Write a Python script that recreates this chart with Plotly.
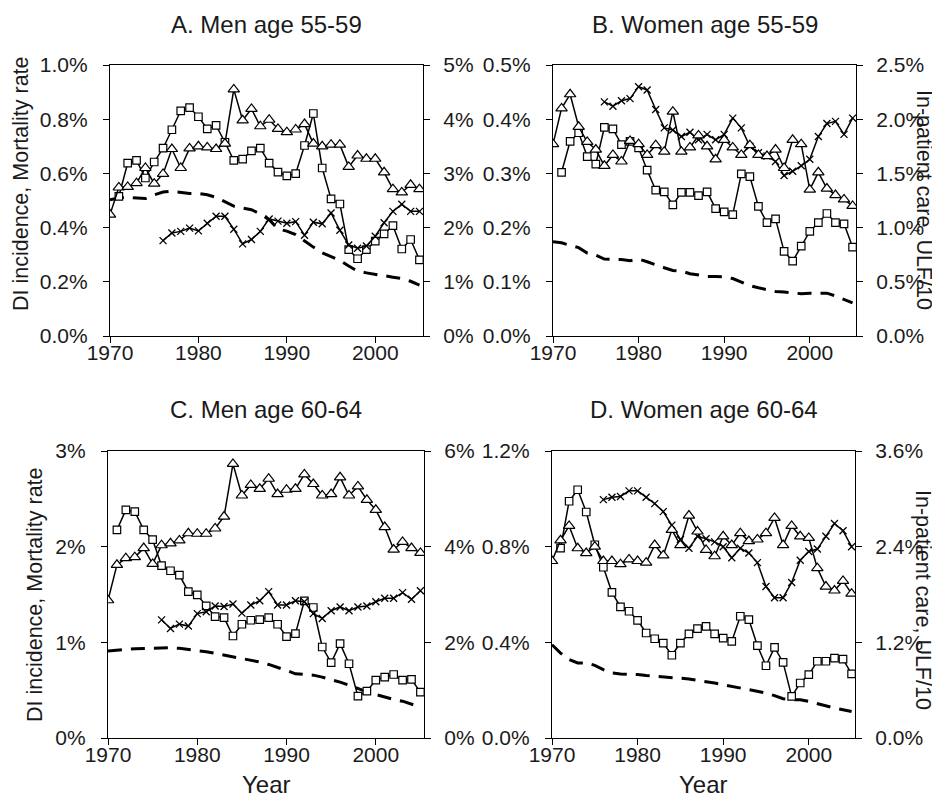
import plotly.graph_objects as go

years = list(range(1970, 2006))
ulf_years = list(range(1976, 2006))
di_years = list(range(1971, 2006))

# Panel A: Men 55-59 (left axis %, right axis %)
di_A = [0.515,0.638,0.648,0.583,0.642,0.693,0.761,0.831,0.843,0.809,0.764,0.777,0.715,0.648,0.653,0.683,0.693,0.638,0.605,0.591,0.599,0.703,0.821,0.620,0.506,0.487,0.319,0.285,0.319,0.350,0.377,0.407,0.321,0.356,0.281]
mort_A = [0.503,0.509,0.512,0.509,0.507,0.521,0.531,0.534,0.529,0.526,0.526,0.521,0.512,0.497,0.479,0.472,0.466,0.450,0.429,0.395,0.387,0.374,0.350,0.328,0.307,0.294,0.279,0.258,0.239,0.233,0.227,0.221,0.217,0.212,0.202,0.188]
inpat_A = [2.24,2.74,2.75,2.82,3.10,2.81,2.99,3.45,3.10,3.46,3.50,3.48,3.45,3.55,4.55,3.98,4.19,3.87,3.99,3.82,3.76,3.81,3.91,3.55,3.50,3.53,3.53,3.12,3.33,3.27,3.27,3.02,2.71,2.65,2.79,2.71]
ulf_A = [1.76,1.90,1.93,1.99,1.94,2.08,2.21,2.21,1.97,1.70,1.78,1.93,2.16,2.12,2.08,2.11,1.86,2.10,2.07,2.27,1.95,1.68,1.62,1.66,1.84,2.09,2.30,2.43,2.30,2.30]

# Panel B: Women 55-59
di_B = [0.302,0.359,0.375,0.331,0.317,0.385,0.382,0.353,0.359,0.347,0.306,0.269,0.266,0.242,0.265,0.265,0.259,0.266,0.235,0.229,0.224,0.299,0.294,0.239,0.209,0.216,0.156,0.138,0.166,0.193,0.209,0.226,0.209,0.207,0.164]
mort_B = [0.174,0.172,0.167,0.163,0.153,0.149,0.142,0.142,0.141,0.139,0.142,0.137,0.131,0.126,0.121,0.120,0.115,0.112,0.110,0.110,0.109,0.106,0.100,0.093,0.089,0.085,0.082,0.081,0.079,0.078,0.079,0.079,0.079,0.074,0.067,0.061]
inpat_B = [1.77,2.10,2.23,1.93,1.79,1.72,1.57,1.67,1.61,1.80,1.77,1.67,1.76,1.70,2.07,1.70,1.74,1.85,1.75,1.63,1.81,1.74,1.67,1.76,1.67,1.66,1.72,1.55,1.81,1.77,1.35,1.51,1.36,1.30,1.26,1.20]
ulf_B = [2.16,2.12,2.17,2.19,2.30,2.27,2.09,1.92,1.90,1.84,1.88,1.81,1.86,1.81,1.86,2.01,1.92,1.75,1.69,1.66,1.61,1.48,1.52,1.57,1.63,1.84,1.96,1.98,1.86,2.01]

# Panel C: Men 60-64
di_C = [2.175,2.385,2.367,2.175,2.073,1.801,1.748,1.703,1.531,1.497,1.381,1.269,1.259,1.066,1.189,1.231,1.238,1.259,1.189,1.059,1.091,1.434,1.364,0.951,0.787,0.986,0.776,0.437,0.490,0.605,0.636,0.664,0.605,0.612,0.479]
mort_C = [0.909,0.920,0.927,0.934,0.937,0.944,0.944,0.944,0.937,0.927,0.916,0.902,0.885,0.867,0.846,0.832,0.815,0.794,0.769,0.741,0.706,0.671,0.664,0.657,0.636,0.612,0.584,0.552,0.514,0.483,0.455,0.427,0.402,0.385,0.357,0.322]
inpat_C = [2.88,3.62,3.76,3.78,3.97,3.64,4.03,4.07,4.13,4.28,4.27,4.27,4.38,4.63,5.73,5.07,5.29,5.21,5.42,5.10,5.19,5.21,5.51,5.31,5.07,5.10,5.45,5.07,5.26,4.98,4.77,4.41,3.94,4.10,3.97,3.87]
ulf_C = [2.47,2.29,2.38,2.34,2.60,2.64,2.76,2.75,2.80,2.61,2.78,2.87,3.06,2.78,2.78,2.87,2.85,2.60,2.50,2.66,2.74,2.66,2.74,2.76,2.85,2.92,2.92,3.04,2.90,3.08]

# Panel D: Women 60-64
di_D = [0.794,0.990,1.038,0.945,0.808,0.714,0.609,0.548,0.530,0.492,0.439,0.415,0.397,0.346,0.397,0.435,0.457,0.467,0.435,0.418,0.404,0.509,0.495,0.386,0.302,0.379,0.316,0.174,0.230,0.265,0.321,0.321,0.334,0.330,0.268]
mort_D = [0.390,0.355,0.328,0.314,0.314,0.304,0.286,0.272,0.268,0.268,0.265,0.261,0.258,0.255,0.254,0.251,0.247,0.241,0.237,0.230,0.223,0.216,0.209,0.202,0.195,0.188,0.177,0.164,0.160,0.160,0.153,0.144,0.132,0.125,0.118,0.111]
inpat_D = [2.22,2.48,2.66,2.38,2.32,2.40,2.22,2.22,2.18,2.24,2.22,2.20,2.42,2.29,2.61,2.42,2.79,2.59,2.36,2.28,2.53,2.42,2.57,2.47,2.49,2.57,2.76,2.42,2.66,2.53,2.51,2.13,1.90,1.85,1.97,1.81]
ulf_D = [2.99,3.02,3.03,3.10,3.10,3.02,2.94,2.84,2.67,2.49,2.38,2.53,2.50,2.46,2.40,2.26,2.38,2.32,2.20,1.90,1.76,1.76,1.95,2.23,2.34,2.37,2.53,2.69,2.60,2.40]

titles = ["A. Men age 55-59", "B. Women age 55-59", "C. Men age 60-64", "D. Women age 60-64"]
x_ticks = [1970, 1980, 1990, 2000]
x_labels = ["1970", "1980", "1990", "2000"]
left_ticks = [[0, 0.2, 0.4, 0.6, 0.8, 1.0], [0, 0.1, 0.2, 0.3, 0.4, 0.5], [0, 1, 2, 3], [0, 0.4, 0.8, 1.2]]
left_labels = [["0.0%", "0.2%", "0.4%", "0.6%", "0.8%", "1.0%"],
               ["0.0%", "0.1%", "0.2%", "0.3%", "0.4%", "0.5%"],
               ["0%", "1%", "2%", "3%"],
               ["0.0%", "0.4%", "0.8%", "1.2%"]]
right_ticks = [[0, 1, 2, 3, 4, 5], [0, 0.5, 1.0, 1.5, 2.0, 2.5], [0, 2, 4, 6], [0, 1.2, 2.4, 3.6]]
right_labels = [["0%", "1%", "2%", "3%", "4%", "5%"],
                ["0.0%", "0.5%", "1.0%", "1.5%", "2.0%", "2.5%"],
                ["0%", "2%", "4%", "6%"],
                ["0.0%", "1.2%", "2.4%", "3.6%"]]

W, H = 940, 797
FONT = "Liberation Sans, Arial, Helvetica, sans-serif"
INK = "#1a1a1a"

# panel pixel boxes: (left, right, top, bottom)
boxes = [(102, 415, 57, 328), (545, 848, 57, 328), (100, 416, 443, 730), (544, 847, 443, 730)]

panels = [
    (di_A, mort_A, inpat_A, ulf_A),
    (di_B, mort_B, inpat_B, ulf_B),
    (di_C, mort_C, inpat_C, ulf_C),
    (di_D, mort_D, inpat_D, ulf_D),
]

fig = go.Figure()
layout = dict(width=W, height=H, margin=dict(l=0, r=0, t=0, b=0, pad=0, autoexpand=False),
              paper_bgcolor="white", plot_bgcolor="white", showlegend=False,
              font=dict(family=FONT, size=21, color=INK))

for k, (di, mort, inpat, ulf) in enumerate(panels):
    xn = k + 1
    yl = 2 * k + 1
    yr = 2 * k + 2
    xref = "x" if xn == 1 else f"x{xn}"
    ylref = "y" if yl == 1 else f"y{yl}"
    yrref = f"y{yr}"
    l, r, t, b = boxes[k]
    xdom = [l / W, r / W]
    ydom = [1 - b / H, 1 - t / H]

    fig.add_trace(go.Scatter(x=years, y=mort, mode="lines", xaxis=xref, yaxis=ylref,
                             line=dict(color="black", width=3, dash="14px,9px")))
    fig.add_trace(go.Scatter(x=ulf_years, y=ulf, mode="lines+markers", xaxis=xref, yaxis=yrref,
                             line=dict(color="black", width=1.5),
                             marker=dict(symbol="x-thin", size=7, line=dict(color="black", width=1.3))))
    fig.add_trace(go.Scatter(x=years, y=inpat, mode="lines+markers", xaxis=xref, yaxis=yrref,
                             line=dict(color="black", width=1.5),
                             marker=dict(symbol="triangle-up", size=10, color="white",
                                         line=dict(color="black", width=1.2))))
    fig.add_trace(go.Scatter(x=di_years, y=di, mode="lines+markers", xaxis=xref, yaxis=ylref,
                             line=dict(color="black", width=1.5),
                             marker=dict(symbol="square", size=7.5, color="white",
                                         line=dict(color="black", width=1.2))))

    common = dict(showline=True, linecolor="black", linewidth=1.3, showgrid=False, zeroline=False,
                  ticks="outside", ticklen=6, tickwidth=1.3, tickcolor="black", automargin=False,
                  tickfont=dict(family=FONT, size=21, color=INK))
    layout["xaxis" if xn == 1 else f"xaxis{xn}"] = dict(
        domain=xdom, anchor=ylref, range=[1970, 2005.4], tickmode="array",
        tickvals=x_ticks, ticktext=x_labels, mirror=True, ticklabelstandoff=-8, **common)
    lrng = [left_ticks[k][0], left_ticks[k][-1]]
    rrng = [right_ticks[k][0], right_ticks[k][-1]]
    layout["yaxis" if yl == 1 else f"yaxis{yl}"] = dict(
        domain=ydom, anchor=xref, range=lrng, tickmode="array",
        tickvals=left_ticks[k], ticktext=left_labels[k], ticklabelstandoff=11, **common)
    layout[f"yaxis{yr}"] = dict(
        domain=ydom, anchor=xref, overlaying=ylref, side="right", range=rrng, tickmode="array",
        tickvals=right_ticks[k], ticktext=right_labels[k], ticklabelstandoff=9, **common)

annotations = []
title_top = [1, 1, 386, 386]
for k in range(4):
    l, r, t, b = boxes[k]
    annotations.append(dict(text=titles[k], x=(l + r) / 2 / W, y=1 - title_top[k] / H, xref="paper", yref="paper",
                            showarrow=False, xanchor="center", yanchor="top",
                            font=dict(family=FONT, size=24, color=INK)))
# axis titles
annotations.append(dict(text="DI incidence, Mortality rate", x=13 / W, y=1 - 176 / H, xref="paper", yref="paper",
                        showarrow=False, textangle=-90, xanchor="center", yanchor="middle",
                        font=dict(family=FONT, size=21.5, color=INK)))
annotations.append(dict(text="DI incidence, Mortality rate", x=27 / W, y=1 - 587 / H, xref="paper", yref="paper",
                        showarrow=False, textangle=-90, xanchor="center", yanchor="middle",
                        font=dict(family=FONT, size=21.5, color=INK)))
annotations.append(dict(text="In-patient care, ULF/10", x=916 / W, y=1 - 192 / H, xref="paper", yref="paper",
                        showarrow=False, textangle=90, xanchor="center", yanchor="middle",
                        font=dict(family=FONT, size=21.5, color=INK)))
annotations.append(dict(text="In-patient care, ULF/10", x=915 / W, y=1 - 592 / H, xref="paper", yref="paper",
                        showarrow=False, textangle=90, xanchor="center", yanchor="middle",
                        font=dict(family=FONT, size=21.5, color=INK)))
for cx in [(100 + 416) / 2, (544 + 847) / 2]:
    annotations.append(dict(text="Year", x=cx / W, y=1 - 776 / H, xref="paper", yref="paper",
                            showarrow=False, xanchor="center", yanchor="middle",
                            font=dict(family=FONT, size=24, color=INK)))
layout["annotations"] = annotations

fig.update_layout(**layout)
fig.write_html("out.html")
